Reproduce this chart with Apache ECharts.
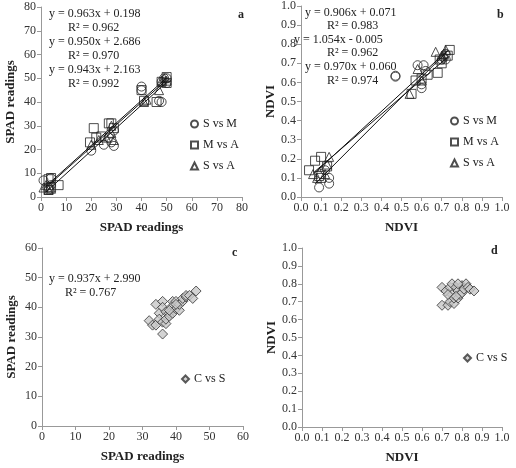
<!DOCTYPE html>
<html>
<head>
<meta charset="utf-8">
<script src="https://cdn.jsdelivr.net/npm/echarts@6/dist/echarts.min.js"></script>
<style>
  html, body { margin: 0; padding: 0; background: #fff; }
  #main { width: 516px; height: 468px; }
</style>
</head>
<body>
<div id="main"></div>
<script>
  // panel a: SPAD readings, three sensor comparisons
  var aSvM = [[1,7],[3,4],[3,3],[4,5],[4,8],[20,19.5],[25,22],[27,25],[28,23],[29,21.5],[29,28],[40,46.5],[40,45],[47,40.5],[48,40],[49,50],[48,48.5],[50,50],[50,48]];
  var aMvA = [[3,7.5],[4,8],[7,5],[3,3],[4,4],[19.5,23],[21,29],[22,25],[24,25.5],[27,31],[28,31],[29,29],[40,45],[41,40.5],[46,40],[48,48.5],[50,50.5],[50,48]];
  var aSvA = [[1,4],[2,5],[3,3],[4,3.5],[20,22],[23,24],[26,25],[28,27],[29,24],[28,30],[41,40],[42,41],[47,45],[48,49],[49,50],[50,49]];
  var aSlopes = [0.963, 0.950, 0.943];
  var aIntercepts = [0.198, 2.686, 2.163];
  var aRange = [2, 50];
  var aEquations = ['y = 0.963x + 0.198', 'R² = 0.962', 'y = 0.950x + 2.686', 'R² = 0.970', 'y = 0.943x + 2.163', 'R² = 0.992'];

  // panel b: NDVI, three sensor comparisons
  var bSvM = [[0.09,0.05],[0.1,0.12],[0.14,0.07],[0.14,0.10],[0.12,0.14],[0.47,0.63],[0.47,0.635],[0.58,0.69],[0.61,0.69],[0.6,0.57],[0.6,0.59],[0.62,0.66],[0.7,0.72],[0.72,0.72],[0.72,0.75],[0.71,0.73]];
  var bMvA = [[0.04,0.14],[0.07,0.19],[0.1,0.21],[0.09,0.11],[0.13,0.16],[0.1,0.10],[0.57,0.61],[0.55,0.54],[0.6,0.62],[0.63,0.64],[0.68,0.65],[0.7,0.70],[0.74,0.77],[0.73,0.74],[0.69,0.72]];
  var bSvA = [[0.06,0.12],[0.08,0.10],[0.12,0.12],[0.14,0.21],[0.13,0.17],[0.54,0.54],[0.58,0.67],[0.6,0.61],[0.67,0.76],[0.7,0.74],[0.72,0.77],[0.71,0.75]];
  var bSlopes = [0.906, 1.054, 0.970];
  var bIntercepts = [0.071, -0.005, 0.060];
  var bRange = [0.07, 0.73];
  var bEquations = ['y = 0.906x + 0.071', 'R² = 0.983', 'y = 1.054x - 0.005', 'R² = 0.962', 'y = 0.970x + 0.060', 'R² = 0.974'];

  // panel c: SPAD C vs S
  var cCvS = [[32,35.5],[33,34],[34,41],[34,34],[35,38],[35,36],[36,42],[36,40],[36,35],[36,31],[37,34.5],[37,36],[37,38.5],[38,38],[38,37],[39,38],[39,42],[39,40.5],[40,42],[40,39.5],[41,39],[41,41],[42,42],[42,43],[43,43.5],[43,44],[44,44],[45,43],[46,45.5],[38,39],[40,41]];
  var cEquations = ['y = 0.937x + 2.990', 'R² = 0.767'];

  // panel d: NDVI C vs S
  var dCvS = [[0.70,0.78],[0.70,0.68],[0.72,0.76],[0.73,0.68],[0.74,0.70],[0.74,0.78],[0.75,0.80],[0.75,0.74],[0.76,0.69],[0.76,0.72],[0.77,0.78],[0.78,0.76],[0.78,0.72],[0.79,0.74],[0.80,0.79],[0.80,0.75],[0.81,0.77],[0.82,0.80],[0.83,0.78],[0.84,0.77],[0.86,0.76],[0.78,0.80],[0.73,0.74],[0.77,0.73]];

  var pairNames = ['S vs M', 'M vs A', 'S vs A'];
  var pairSymbols = ['circle', 'rect', 'triangle'];

  var font = 'Liberation Serif';
  var chart = echarts.init(document.getElementById('main'));

  function fitLine(m, b, range) {
    return range.map(function (x) { return [x, m * x + b]; });
  }

  function axis(idx, min, max, interval, name, dec) {
    return {
      gridIndex: idx, type: 'value', min: min, max: max, interval: interval,
      name: name, nameLocation: 'middle', nameGap: 24,
      nameTextStyle: { fontFamily: font, fontWeight: 'bold', fontSize: 13, color: '#222' },
      axisLine: { show: true, lineStyle: { color: '#999' } },
      axisTick: { show: true, length: 4, lineStyle: { color: '#999' } },
      axisLabel: {
        fontFamily: font, fontSize: 12, color: '#333', margin: 5,
        formatter: function (v) { return dec ? v.toFixed(1) : v; }
      },
      splitLine: { show: false }
    };
  }

  var hollow = { color: 'rgba(255,255,255,0)', borderColor: '#222', borderWidth: 1 };
  var grey = { color: '#c8c8c8', borderColor: '#333', borderWidth: 1 };

  var series = [];
  [[aSvM, aMvA, aSvA], [bSvM, bMvA, bSvA]].forEach(function (sets, g) {
    sets.forEach(function (d, i) {
      series.push({
        type: 'scatter', name: pairNames[i], xAxisIndex: g, yAxisIndex: g,
        data: d, symbol: pairSymbols[i], symbolSize: 9, itemStyle: hollow
      });
    });
  });
  aSlopes.forEach(function (m, i) {
    series.push({ type: 'line', xAxisIndex: 0, yAxisIndex: 0, data: fitLine(m, aIntercepts[i], aRange),
      symbol: 'none', lineStyle: { color: '#111', width: 1 }, silent: true });
  });
  bSlopes.forEach(function (m, i) {
    series.push({ type: 'line', xAxisIndex: 1, yAxisIndex: 1, data: fitLine(m, bIntercepts[i], bRange),
      symbol: 'none', lineStyle: { color: '#111', width: 1 }, silent: true });
  });
  series.push({ type: 'scatter', name: 'C vs S', xAxisIndex: 2, yAxisIndex: 2, data: cCvS,
    symbol: 'diamond', symbolSize: 10, itemStyle: grey });
  series.push({ type: 'scatter', name: 'C vs S ', xAxisIndex: 3, yAxisIndex: 3, data: dCvS,
    symbol: 'diamond', symbolSize: 10, itemStyle: grey });

  function txt(x, y, s, bold) {
    return {
      type: 'text', left: x, top: y - 7,
      style: { text: s, fontFamily: font, fontSize: 12, fontWeight: bold ? 'bold' : 'normal', fill: '#222' }
    };
  }

  var graphics = [];
  var aLeft = [49, 68, 49, 68, 49, 68];
  var aTop = [15, 29, 43, 57, 71, 85];
  aEquations.forEach(function (s, i) { graphics.push(txt(aLeft[i], aTop[i], s)); });
  var bLeft = [305, 327, 294, 327, 305, 327];
  var bTop = [14, 27, 41, 54, 68, 82];
  bEquations.forEach(function (s, i) { graphics.push(txt(bLeft[i], bTop[i], s)); });
  graphics.push(txt(49, 280, cEquations[0]));
  graphics.push(txt(65, 294, cEquations[1]));
  graphics.push(txt(238, 16, 'a', true));
  graphics.push(txt(497, 16, 'b', true));
  graphics.push(txt(232, 254, 'c', true));
  graphics.push(txt(491, 252, 'd', true));

  function legend(left, top, names) {
    return {
      orient: 'vertical', left: left, top: top, data: names,
      itemWidth: 7, itemHeight: 7, itemGap: 9, selectedMode: false,
      textStyle: { fontFamily: font, fontSize: 12, color: '#222' }
    };
  }

  var option = {
    backgroundColor: '#fff',
    animation: false,
    grid: [
      { left: 41, top: 7, width: 201, height: 190 },
      { left: 301, top: 6, width: 201, height: 191 },
      { left: 42, top: 248, width: 201, height: 178 },
      { left: 302, top: 248, width: 200, height: 179 }
    ],
    xAxis: [
      axis(0, 0, 80, 10, 'SPAD readings', false),
      axis(1, 0, 1, 0.1, 'NDVI', true),
      axis(2, 0, 60, 10, 'SPAD readings', false),
      axis(3, 0, 1, 0.1, 'NDVI', true)
    ],
    yAxis: [
      axis(0, 0, 80, 10, 'SPAD readings', false),
      axis(1, 0, 1, 0.1, 'NDVI', true),
      axis(2, 0, 60, 10, 'SPAD readings', false),
      axis(3, 0, 1, 0.1, 'NDVI', true)
    ],
    legend: [
      legend(185, 113, pairNames.slice()),
      legend(445, 110, pairNames.slice()),
      legend(176, 368, ['C vs S']),
      legend(458, 347, ['C vs S '])
    ],
    graphic: graphics,
    series: series
  };
  chart.setOption(option);
</script>
</body>
</html>
